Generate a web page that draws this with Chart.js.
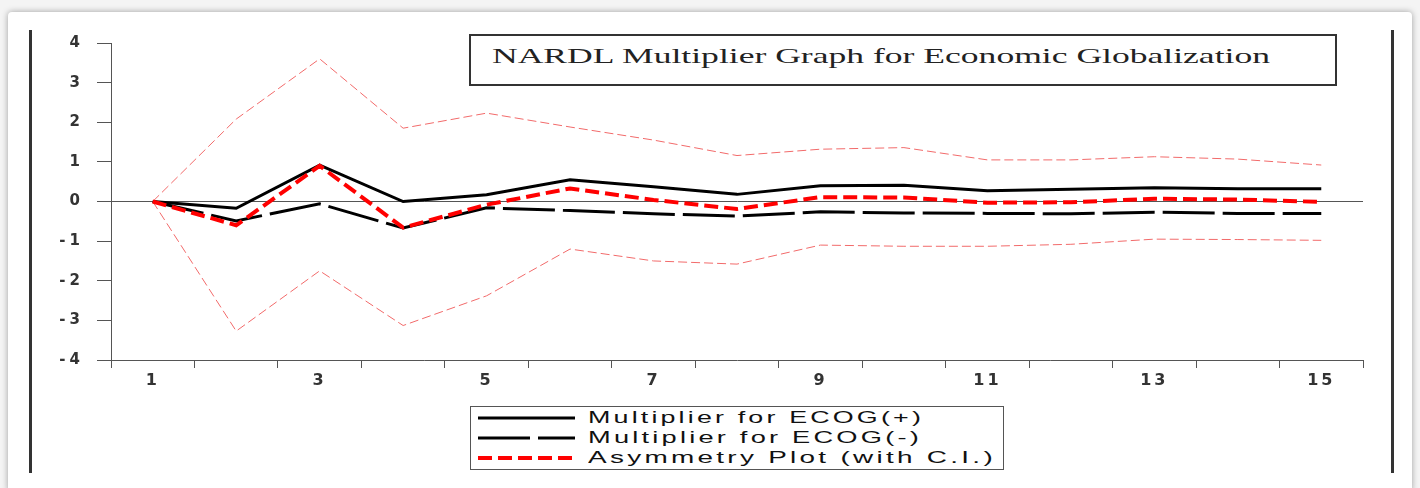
<!DOCTYPE html>
<html>
<head>
<meta charset="utf-8">
<title>NARDL Multiplier Graph</title>
<script src="https://cdn.jsdelivr.net/npm/chart.js@4.4.1/dist/chart.umd.min.js"></script>
<style>
  html, body { margin: 0; padding: 0; background: #f4f4f4; }
  #page { position: relative; width: 1420px; height: 488px; overflow: hidden; }
  #sheet {
    position: absolute; left: 8px; top: 12px; width: 1404px; height: 480px;
    background: #fff; border-radius: 4px;
    box-shadow: 0 0 6px rgba(0, 0, 0, 0.35);
  }
  .frameLine { position: absolute; top: 30px; width: 3px; height: 443px; background: #333; }
  #chartWrap { position: absolute; left: 0; top: 0; width: 1420px; height: 488px; }
  #titleBox {
    position: absolute; left: 469px; top: 34px; width: 864px; height: 48px;
    border: 2px solid #333; background: #fff;
  }
  #titleText {
    position: absolute; left: 21px; top: 8px; white-space: nowrap;
    font-family: "Liberation Serif", "Times New Roman", serif; font-size: 21px; color: #222;
    transform-origin: left top;
  }
  #legendBox {
    position: absolute; left: 470px; top: 406px; width: 532px; height: 62px;
    border: 1px solid #555; background: #fff;
  }
  .legendRow { position: absolute; left: 0; height: 20px; width: 100%; }
  .legendRow svg { position: absolute; left: 7px; top: 0; }
  .legendRow span {
    position: absolute; left: 117px; top: 0; white-space: nowrap; line-height: 20px;
    font-family: "Liberation Sans", Arial, sans-serif; font-size: 17px; color: #111;
    letter-spacing: 2px; transform-origin: left center;
  }
</style>
</head>
<body>
<div id="page">
  <div id="sheet"></div>
  <div class="frameLine" style="left:29px"></div>
  <div class="frameLine" style="left:1391px"></div>
  <div id="chartWrap"><canvas id="multiplierChart"></canvas></div>
  <div id="titleBox"><div id="titleText">NARDL Multiplier Graph for Economic Globalization</div></div>
  <div id="legendBox"></div>
</div>
<script>
// Периоды (горизонт)
const periods = ['1', '2', '3', '4', '5', '6', '7', '8', '9', '10', '11', '12', '13', '14', '15'];

// Кумулятивные мультипликаторы
const positiveMult = [0, -0.17, 0.92, 0.00, 0.17, 0.55, 0.37, 0.18, 0.40, 0.41, 0.27, 0.31, 0.35, 0.32, 0.32];
const negativeMult = [0, -0.49, -0.06, -0.67, -0.16, -0.23, -0.31, -0.37, -0.26, -0.29, -0.30, -0.31, -0.27, -0.30, -0.30];
const asymmetry = [0, -0.60, 0.90, -0.66, -0.08, 0.33, 0.04, -0.19, 0.11, 0.10, -0.03, -0.02, 0.07, 0.05, -0.01];
const upperCI = [0, 2.08, 3.60, 1.85, 2.23, 1.88, 1.55, 1.16, 1.32, 1.36, 1.05, 1.05, 1.13, 1.07, 0.92];
const lowerCI = [0, -3.27, -1.75, -3.13, -2.38, -1.20, -1.50, -1.58, -1.10, -1.13, -1.13, -1.08, -0.95, -0.96, -0.98];

const yTicks = [-4, -3, -2, -1, 0, 1, 2, 3, 4];

const legendLabels = ['Multiplier for ECOG(+)', 'Multiplier for ECOG(-)', 'Asymmetry Plot (with C.I.)'];

const datasets = [
  { label: legendLabels[0], data: positiveMult, borderColor: '#000', borderWidth: 3, borderDash: [], order: 1 },
  { label: legendLabels[1], data: negativeMult, borderColor: '#000', borderWidth: 3, borderDash: [52, 8], order: 2 },
  { label: legendLabels[2], data: asymmetry, borderColor: '#f00', borderWidth: 4, borderDash: [14, 6], order: 0 },
  { label: '', data: upperCI, borderColor: '#f26a6a', borderWidth: 1, borderDash: [9, 4], order: 3 },
  { label: '', data: lowerCI, borderColor: '#f26a6a', borderWidth: 1, borderDash: [9, 4], order: 3 }
];
datasets.forEach(ds => {
  ds.pointRadius = 0;
  ds.tension = 0;
  ds.fill = false;
});

// Разрядка подписей осей (на оригинале шрифт растянут)
function spacedLabels(spacing) {
  return scale => {
    if (scale._spacedPatched) return;
    const orig = scale.drawLabels.bind(scale);
    scale.drawLabels = function (area) {
      const c = this.ctx;
      c.save();
      c.letterSpacing = spacing;
      orig(area);
      c.restore();
    };
    scale._spacedPatched = true;
  };
}

const ctx = document.getElementById('multiplierChart').getContext('2d');

new Chart(ctx, {
  type: 'line',
  data: { labels: periods, datasets: datasets },
  options: {
    responsive: true,
    maintainAspectRatio: false,
    animation: false,
    layout: { padding: { left: 51, right: 57, top: 43, bottom: 88 } },
    plugins: { legend: { display: false }, tooltip: { enabled: false }, title: { display: false } },
    scales: {
      x: {
        offset: true,
        grid: {
          offset: true,
          drawOnChartArea: false,
          tickLength: 8,
          tickColor: '#555'
        },
        border: { display: true, color: '#555', width: 1 },
        ticks: {
          autoSkip: false,
          maxRotation: 0,
          padding: 3,
          color: '#333',
          font: { family: 'DejaVu Sans', size: 16, weight: 'bold' },
          callback: function (value, index) {
            return index % 2 === 0 ? periods[index] : '';
          }
        },
        afterFit: scale => { scale.height = 40; },
        afterUpdate: spacedLabels('3px')
      },
      y: {
        min: -4,
        max: 4,
        afterBuildTicks: scale => { scale.ticks = yTicks.map(v => ({ value: v })); },
        grid: {
          drawOnChartArea: true,
          tickLength: 14,
          tickColor: '#555',
          color: c => (c.tick && c.tick.value === 0 ? '#555' : 'rgba(0,0,0,0)'),
          lineWidth: 1
        },
        border: { display: true, color: '#555', width: 1 },
        ticks: {
          padding: 13,
          color: '#333',
          font: { family: 'DejaVu Sans', size: 15, weight: 'bold' }
        },
        afterFit: scale => { scale.width = 60; },
        afterUpdate: spacedLabels('4px')
      }
    }
  }
});

// Легенда в рамке (только три основные линии)
const legendBox = document.getElementById('legendBox');
datasets.filter(ds => ds.label).forEach((ds, i) => {
  const row = document.createElement('div');
  row.className = 'legendRow';
  row.style.top = (1 + i * 20) + 'px';
  const dash = ds.borderDash.length ? ds.borderDash.join(' ') : 'none';
  row.innerHTML =
    '<svg width="100" height="20"><line x1="0" y1="10" x2="97" y2="10" stroke="' + ds.borderColor +
    '" stroke-width="' + ds.borderWidth + '" stroke-dasharray="' + dash + '"/></svg>' +
    '<span>' + ds.label + '</span>';
  legendBox.appendChild(row);
});

// Растягиваем текст по ширине, как на исходной картинке
function stretchText(el, targetWidth) {
  const w = el.getBoundingClientRect().width;
  if (w > 0) el.style.transform = 'scaleX(' + (targetWidth / w) + ')';
}
stretchText(document.getElementById('titleText'), 778);
const spans = legendBox.querySelectorAll('span');
stretchText(spans[0], 336);
stretchText(spans[1], 334);
stretchText(spans[2], 408);
</script>
</body>
</html>
